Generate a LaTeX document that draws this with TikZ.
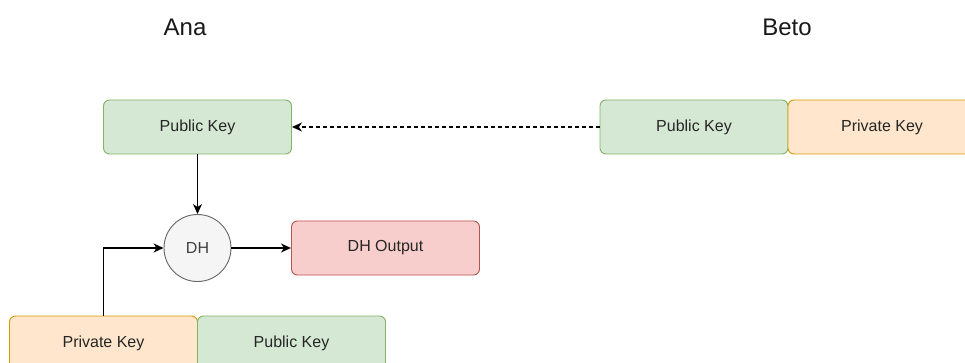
\documentclass[tikz,border=0pt]{standalone}
\usepackage{fontspec}
\setmainfont{Liberation Sans}
\usepackage{xcolor}
\usetikzlibrary{positioning, arrows, arrows.meta}

\definecolor{pubfill}{HTML}{D5E8D4}
\definecolor{publine}{HTML}{82B366}
\definecolor{privfill}{HTML}{FFE6CC}
\definecolor{privline}{HTML}{D79B00}
\definecolor{outfill}{HTML}{F8CECC}
\definecolor{outline}{HTML}{B85450}
\definecolor{dhfill}{HTML}{F5F5F5}
\definecolor{dhline}{HTML}{666666}

\tikzset{
    keybox/.style={rectangle, rounded corners=6pt, line width=0.9pt, minimum width=188pt, minimum height=54pt, font=\fontsize{16}{19}\selectfont, text=black!85},
    pubkey/.style={keybox, draw=publine, fill=pubfill},
    privkey/.style={keybox, draw=privline, fill=privfill},
    outkey/.style={keybox, draw=outline, fill=outfill},
    party/.style={font=\fontsize{24}{28}\selectfont, text=black!90},
    link/.style={-{Stealth[length=10pt, width=9pt, inset=3pt]}, line width=1.3pt}
}

\begin{document}
\begin{tikzpicture}[x=1pt, y=-1pt]
                    \useasboundingbox[fill=white] (0, 0) rectangle (965, 363);

                    \node[party] (ana) at (185, 27) {Ana};
                    \node[party] (beto) at (787, 27) {Beto};

                    \node[pubkey] (anapub) at (197.5, 127) {Public Key};
                    \node[pubkey] (betopub) at (694, 127) {Public Key};
                    \node[privkey] (betopriv) at (882, 127) {Private Key};

                    \node[circle, draw=dhline, fill=dhfill, line width=0.9pt, minimum size=67pt, inner sep=0pt, font=\fontsize{16}{19}\selectfont, text=black!75] (dh) at (197.5, 248) {DH};
                    \node[outkey] (dhout) at (385.5, 248) {DH Output};

                    \node[privkey] (anapriv) at (103.5, 343) {Private Key};
                    \node[pubkey] (anapub2) at (291.5, 343) {Public Key};

                    \draw[link, dash pattern=on 4pt off 3pt] (betopub) -- (anapub);
                    \draw[link] (anapub) -- (dh);
                    \draw[link] (anapriv.north) |- (dh);
                    \draw[link] (dh) -- (dhout);
                \end{tikzpicture}
\end{document}
